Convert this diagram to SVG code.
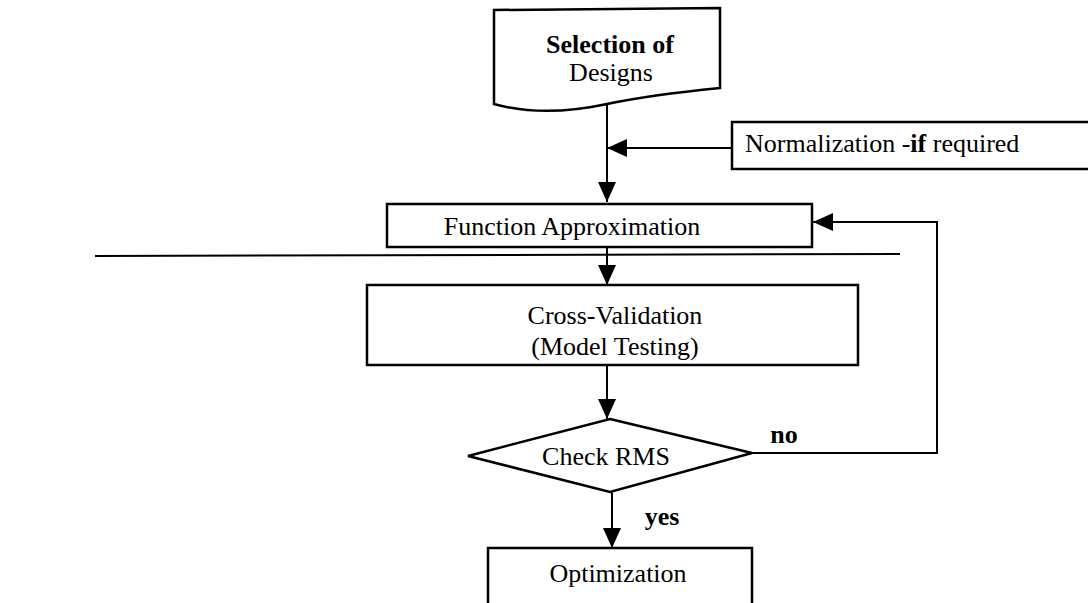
<svg xmlns="http://www.w3.org/2000/svg" width="1088" height="603" viewBox="0 0 1088 603">
<defs>
<marker id="ah" markerUnits="userSpaceOnUse" markerWidth="22" markerHeight="20" refX="20" refY="9" orient="auto">
<path d="M0,0 L20,9 L0,18 Z" fill="#000"/>
</marker>
<style>
.box{fill:#fff;stroke:#000;stroke-width:2.5}
.ln{fill:none;stroke:#000;stroke-width:2}
.t{font-family:"Liberation Serif","Times New Roman",serif;font-size:26px;fill:#000;text-anchor:middle}
.b{font-weight:bold}
</style>
</defs>
<rect width="1088" height="603" fill="#fff"/>
<g id="connectors">
<line class="ln" x1="607" y1="104" x2="607" y2="202" marker-end="url(#ah)"/>
<line class="ln" x1="732" y1="148" x2="607" y2="148" marker-end="url(#ah)"/>
<line class="ln" x1="607" y1="247" x2="607" y2="285" marker-end="url(#ah)"/>
<line class="ln" x1="607" y1="365" x2="607" y2="419" marker-end="url(#ah)"/>
<line class="ln" x1="612" y1="492" x2="612" y2="548" marker-end="url(#ah)"/>
<polyline class="ln" points="752,453 937,453 937,222 813,222" marker-end="url(#ah)"/>
<line class="ln" x1="95" y1="256" x2="900" y2="254"/>
</g>
<g id="selection">
<path class="box" d="M494,10 L720,8 L720,88 C680,92 640,97 607,104 C570,112 530,114 494,104 Z"/>
<text class="t b" x="610" y="53">Selection of</text>
<text class="t" x="611" y="81">Designs</text>
</g>
<g id="normalization">
<rect class="box" x="732" y="122" width="360" height="47"/>
<text class="t" x="745" y="152" style="text-anchor:start">Normalization -<tspan class="b">if</tspan> required</text>
</g>
<g id="function">
<rect class="box" x="387" y="204" width="425" height="43"/>
<text class="t" x="572" y="235">Function Approximation</text>
</g>
<g id="crossval">
<rect class="box" x="367" y="285" width="491" height="80"/>
<text class="t" x="615" y="324">Cross-Validation</text>
<text class="t" x="615" y="355">(Model Testing)</text>
</g>
<g id="check">
<polygon class="box" points="610,419 752,453 610,492 468,456"/>
<text class="t" x="606" y="465">Check RMS</text>
</g>
<text class="t b" x="784" y="443">no</text>
<text class="t b" x="662" y="525">yes</text>
<g id="optimization">
<rect class="box" x="488" y="548" width="264" height="60"/>
<text class="t" x="618" y="582">Optimization</text>
</g>
</svg>
